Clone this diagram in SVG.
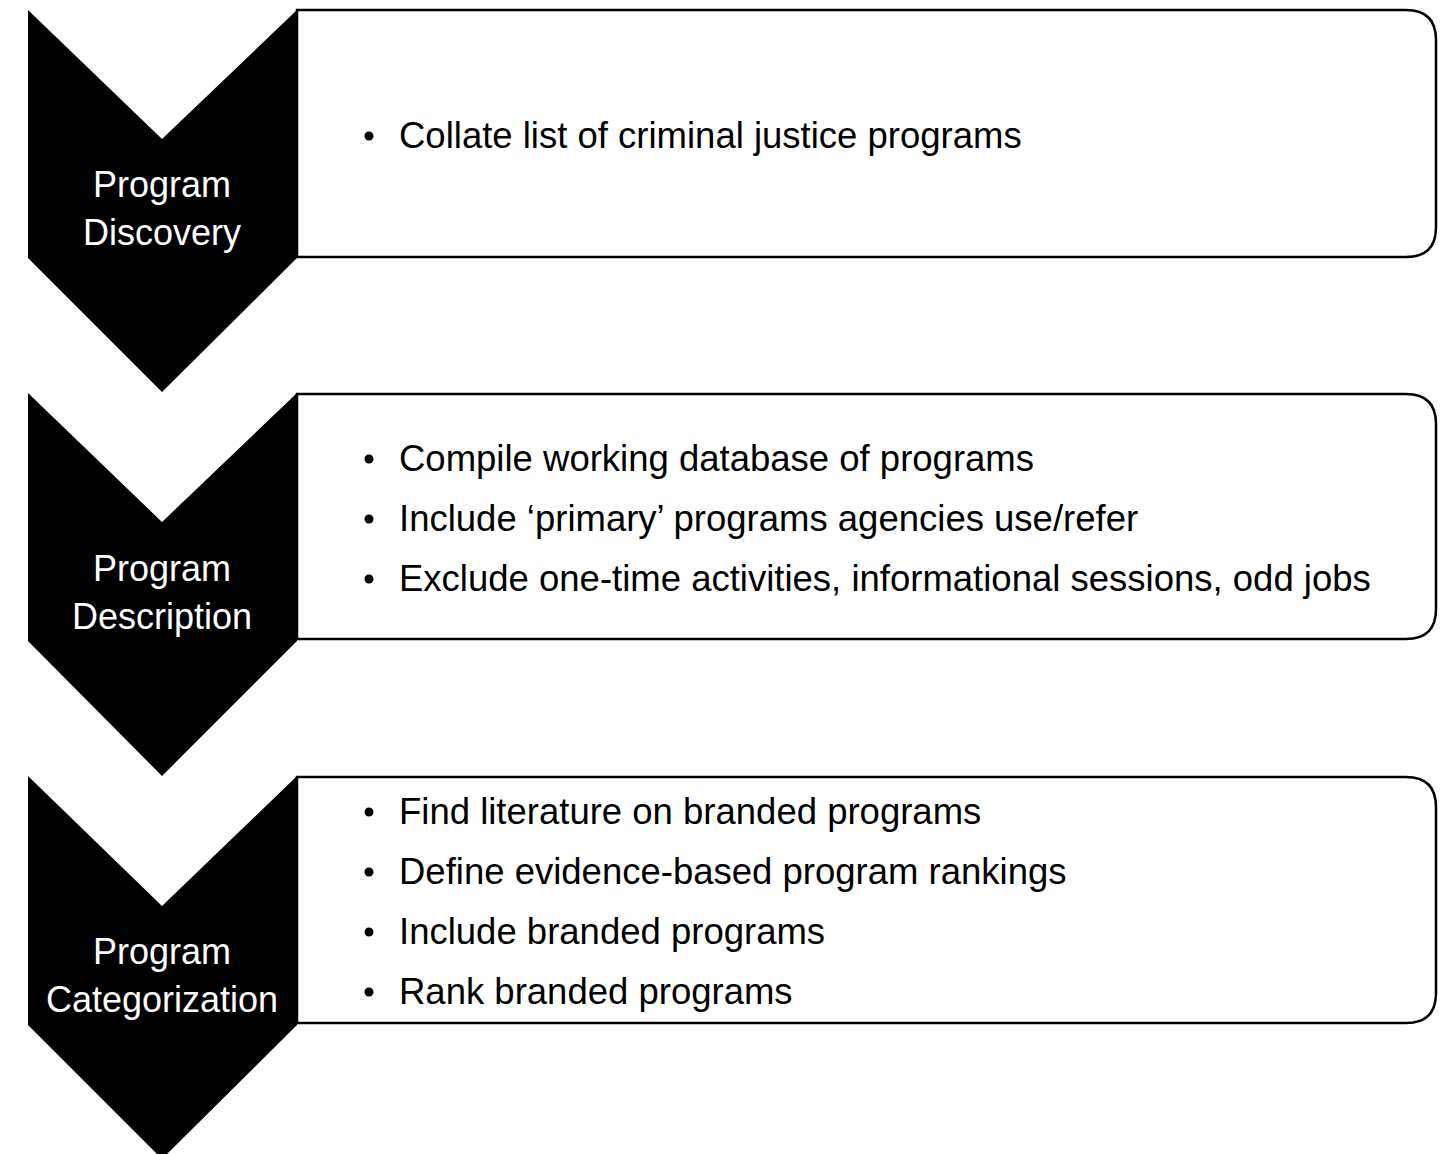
<svg xmlns="http://www.w3.org/2000/svg" width="1450" height="1154" viewBox="0 0 1450 1154">
<style>
.chev{fill:#000}
.box{fill:#fff;stroke:#000;stroke-width:2.5}
.lbl{font-family:"Liberation Sans",Arial,sans-serif;font-size:36px;fill:#fff;text-anchor:middle}
.item{font-family:"Liberation Sans",Arial,sans-serif;font-size:36.5px;fill:#000}
</style>
<rect width="1450" height="1154" fill="#fff"/>
<g id="step1">
<path class="box" d="M297 10 H1406 Q1436 10 1436 40 V227 Q1436 257 1406 257 H297 Z"/>
<polygon class="chev" points="28,10 162,139 297,10 297,258 162,392 28,258"/>
<text class="lbl" x="162" y="197">Program</text>
<text class="lbl" x="162" y="245">Discovery</text>
<circle cx="369" cy="136" r="4.5"/>
<text class="item" x="399" y="148">Collate list of criminal justice programs</text>
</g>
<g id="step2">
<path class="box" d="M297 394 H1406 Q1436 394 1436 424 V609 Q1436 639 1406 639 H297 Z"/>
<polygon class="chev" points="28,393 162,522 297,393 297,641 162,776 28,641"/>
<text class="lbl" x="162" y="581">Program</text>
<text class="lbl" x="162" y="629">Description</text>
<circle cx="369" cy="459" r="4.5"/>
<text class="item" x="399" y="471">Compile working database of programs</text>
<circle cx="369" cy="519" r="4.5"/>
<text class="item" x="399" y="531">Include ‘primary’ programs agencies use/refer</text>
<circle cx="369" cy="579" r="4.5"/>
<text class="item" x="399" y="591">Exclude one-time activities, informational sessions, odd jobs</text>
</g>
<g id="step3">
<path class="box" d="M297 777 H1406 Q1436 777 1436 807 V993 Q1436 1023 1406 1023 H297 Z"/>
<polygon class="chev" points="28,776 162,906 297,776 297,1025 162,1159 28,1025"/>
<text class="lbl" x="162" y="964">Program</text>
<text class="lbl" x="162" y="1012">Categorization</text>
<circle cx="369" cy="812" r="4.5"/>
<text class="item" x="399" y="824">Find literature on branded programs</text>
<circle cx="369" cy="872" r="4.5"/>
<text class="item" x="399" y="884">Define evidence-based program rankings</text>
<circle cx="369" cy="932" r="4.5"/>
<text class="item" x="399" y="944">Include branded programs</text>
<circle cx="369" cy="992" r="4.5"/>
<text class="item" x="399" y="1004">Rank branded programs</text>
</g>
<g id="connectors"></g>
</svg>
